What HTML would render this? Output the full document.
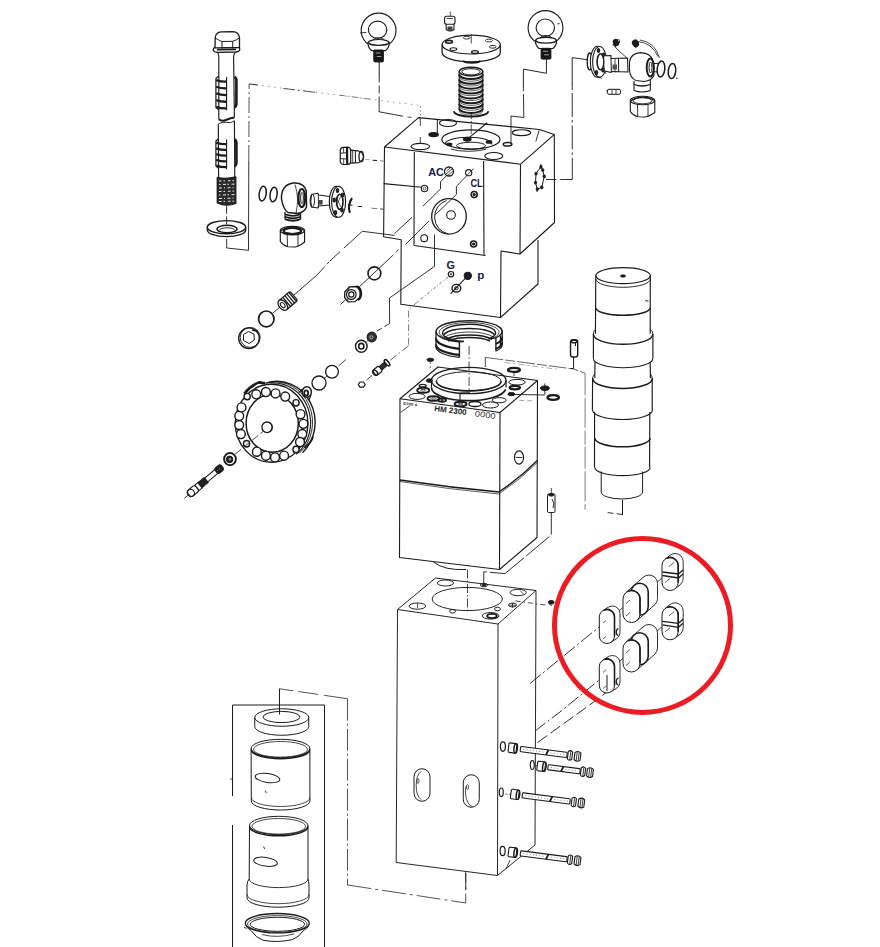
<!DOCTYPE html>
<html lang="en"><head><meta charset="utf-8"><title>HM 2300 exploded view</title>
<style>
html,body{margin:0;padding:0;background:#fff;}
body{width:880px;height:947px;overflow:hidden;font-family:"Liberation Sans",sans-serif;}
svg{display:block;}
svg *{vector-effect:none;}
</style></head><body>
<svg width="880" height="947" viewBox="0 0 880 947" fill="none" stroke="#1b1b1b" stroke-width="1.1" stroke-linejoin="round" stroke-linecap="butt" font-family="Liberation Sans, sans-serif">
<rect x="0" y="0" width="880" height="947" fill="#ffffff" stroke="none"/>
<!-- top block -->
<polygon points="384.5,147 418.6,117.6 539.5,129.5 554.2,134.6 520.5,164.2"/>
<polyline points="384.5,147 383.6,236.8 401.2,239.8 400.8,304.2 500.5,317.5 538,284 538,240"/>
<polyline points="500.5,317.5 501,251 520,254"/>
<polyline points="520.5,164.2 520,254 554.5,222.5 554.3,134.6"/>
<polyline points="383.6,183.6 421.8,187.3"/>
<polyline points="414.3,152 414,245.5 485.5,255.5"/>
<polyline points="483.6,161 484,255"/>
<ellipse cx="448" cy="123" rx="8.5" ry="3.5"/>
<ellipse cx="521.4" cy="132.7" rx="9.2" ry="2.9"/>
<ellipse cx="420.3" cy="146.5" rx="9.3" ry="3.1"/>
<ellipse cx="493.75" cy="156" rx="9" ry="3.5"/>
<ellipse cx="470.9" cy="139.5" rx="29.1" ry="9.6" stroke-width="1.2"/>
<path d="M445.63 144.48A23.2 6.3 0 1 1 491.57 144.48"/>
<path d="M486.37 149.05A23.2 6.3 0 0 1 450.83 149.05" stroke-width="0.9"/>
<ellipse cx="471" cy="145.7" rx="14.5" ry="3.5" stroke-width="1"/>
<ellipse cx="467.3" cy="139.2" rx="3.8" ry="1.9" fill="#1b1b1b"/>
<ellipse cx="449.3" cy="144.3" rx="2.6" ry="1.3" fill="#1b1b1b"/>
<ellipse cx="489" cy="141.9" rx="2.8" ry="1.4" fill="#1b1b1b"/>
<polyline points="467.3,139.1 487.3,122.7"/>
<polyline points="471.2,127 471.2,134" stroke-width="0.7"/>
<ellipse cx="433.6" cy="134.6" rx="4.8" ry="2" fill="#1b1b1b"/>
<ellipse cx="507.6" cy="144.2" rx="4.3" ry="1.8" stroke-width="1.5"/>
<polyline points="535.8,141.5 539,130.5" stroke-width="0.9"/>
<ellipse cx="449" cy="171.5" rx="4.5" ry="4.5" stroke-width="1.3"/>
<polyline points="446,174 452,169" stroke-width="0.8"/>
<polyline points="446.5,171 450.5,167.8" stroke-width="0.8"/>
<polyline points="448,175 452.5,171.5" stroke-width="0.8"/>
<ellipse cx="468.7" cy="172.7" rx="3.1" ry="3.1"/>
<ellipse cx="424.5" cy="188.5" rx="3.2" ry="3.2"/>
<ellipse cx="424.5" cy="188.5" rx="1.4" ry="1.4" stroke-width="0.7"/>
<ellipse cx="474.2" cy="194.5" rx="3" ry="3" stroke-width="1.6"/>
<ellipse cx="474.2" cy="194.5" rx="1" ry="1" fill="#1b1b1b"/>
<ellipse cx="424.2" cy="238.2" rx="3.4" ry="3.4"/>
<ellipse cx="473.6" cy="244" rx="3" ry="3" stroke-width="1.6"/>
<ellipse cx="473.6" cy="244" rx="1" ry="1" fill="#1b1b1b"/>
<ellipse cx="449" cy="216.4" rx="17.3" ry="17.7" stroke-width="1.3"/>
<path d="M447.99 233.74A16.2 17 0 0 1 446.61 200.58" stroke-width="1"/>
<ellipse cx="451" cy="215" rx="4.3" ry="4.3"/>
<!-- side star -->
<polygon points="540.9,166.9 536,173.6 535.5,182.7 537.3,189.1 541.8,187.3 544.2,176.4 542.7,170" stroke-width="1"/>
<ellipse cx="540.9" cy="166.9" rx="1.3" ry="1.6" fill="#1b1b1b" stroke-width="0.6"/>
<ellipse cx="536" cy="173.6" rx="1.3" ry="1.6" fill="#1b1b1b" stroke-width="0.6"/>
<ellipse cx="535.5" cy="182.7" rx="1.3" ry="1.6" fill="#1b1b1b" stroke-width="0.6"/>
<ellipse cx="537.3" cy="189.1" rx="1.3" ry="1.6" fill="#1b1b1b" stroke-width="0.6"/>
<ellipse cx="541.8" cy="187.3" rx="1.3" ry="1.6" fill="#1b1b1b" stroke-width="0.6"/>
<ellipse cx="544.2" cy="176.4" rx="1.3" ry="1.6" fill="#1b1b1b" stroke-width="0.6"/>
<ellipse cx="542.7" cy="170" rx="1.3" ry="1.6" fill="#1b1b1b" stroke-width="0.6"/>
<polyline points="540.9,164 540.9,167" stroke-width="1"/>
<polyline points="537.3,189 537,192" stroke-width="1"/>
<ellipse cx="467.8" cy="275.8" rx="3.6" ry="3.6" fill="#1b1b1b"/>
<ellipse cx="451" cy="274.2" rx="2.7" ry="2.7" stroke-width="1.2"/>
<ellipse cx="451" cy="274.2" rx="0.8" ry="0.8" fill="#1b1b1b" stroke-width="0.5"/>
<ellipse cx="456.4" cy="288.2" rx="4.4" ry="3.8" stroke-width="1.4"/>
<ellipse cx="456.4" cy="288.2" rx="1.8" ry="1.5" stroke-width="1"/>
<polyline points="450.5,293.8 465.5,278.2"/>
<text x="428.3" y="175.8" font-size="10.8" font-weight="bold" fill="#182045" stroke="none" text-anchor="start">AC</text>
<text x="470.4" y="186.9" font-size="10.8" font-weight="bold" fill="#182045" stroke="none" text-anchor="start" textLength="12.4" lengthAdjust="spacingAndGlyphs">CL</text>
<text x="446.6" y="269.2" font-size="10.8" font-weight="bold" fill="#182045" stroke="none" text-anchor="start">G</text>
<text x="477.2" y="279.2" font-size="11.5" font-weight="bold" fill="#182045" stroke="none" text-anchor="start">p</text>
<!-- middle block -->
<polygon points="400,398.75 438,367 537.5,380.5 500,412.5"/>
<polyline points="400,398.75 399.5,557.5 499.5,569.5 537,537.5 537.5,380.5"/>
<polyline points="500,412.5 499.5,569.5"/>
<path d="M400 480 Q450 487.5 498.8 492 Q520 478 537.3 460.5" stroke-width="1.3"/>
<path d="M400 481.5 Q450 489.5 498.8 494 Q520 480 537.3 462.5" stroke-width="0.7"/>
<polyline points="400.6,412.4 409.5,406" stroke-width="0.8"/>
<ellipse cx="468.75" cy="380.5" rx="37.3" ry="13.2" stroke-width="1.3"/>
<ellipse cx="468.75" cy="381.3" rx="32.4" ry="9.6" stroke-width="1"/>
<path d="M436.4 381.3 A32.4 9.6 0 0 0 501.2 381.3" stroke-width="1.6"/>
<path d="M505.69 389.34A37.3 13.2 0 0 1 431.45 387.5" stroke-width="1.7"/>
<polyline points="431.45,380.5 431.45,387.5" stroke-width="1.2"/>
<polyline points="506.05,380.5 506.05,387.5" stroke-width="1.2"/>
<polyline points="460,393.2 460,400.3"/>
<polyline points="460,393 470,392.6" stroke-width="0.9"/>
<ellipse cx="514" cy="369.9" rx="6" ry="2" stroke-width="2.2"/>
<ellipse cx="517" cy="382.2" rx="8.2" ry="2.8" stroke-width="1"/>
<ellipse cx="514.8" cy="387.6" rx="5.2" ry="1.8" stroke-width="2.2"/>
<ellipse cx="511.4" cy="394.1" rx="3.5" ry="1.6" fill="#1b1b1b" stroke-width="1"/>
<ellipse cx="499.2" cy="400.2" rx="7" ry="2.6" stroke-width="1"/>
<ellipse cx="490.5" cy="405" rx="8" ry="3" stroke-width="1"/>
<ellipse cx="475" cy="404" rx="6" ry="2.5" stroke-width="1.3"/>
<ellipse cx="460.6" cy="404.1" rx="6" ry="2.3" stroke-width="1.9"/>
<ellipse cx="460.6" cy="404.1" rx="2.4" ry="0.8" stroke-width="0.8"/>
<ellipse cx="442.1" cy="400" rx="4" ry="1.8" stroke-width="1.9"/>
<ellipse cx="442.1" cy="400" rx="1.6" ry="0.63" stroke-width="0.8"/>
<ellipse cx="433.5" cy="398.5" rx="6" ry="2.4" stroke-width="1.9"/>
<ellipse cx="433.5" cy="398.5" rx="2.4" ry="0.84" stroke-width="0.8"/>
<ellipse cx="417.1" cy="396.4" rx="8" ry="3" stroke-width="1"/>
<ellipse cx="423.2" cy="390.3" rx="6" ry="2.6" stroke-width="1.9"/>
<ellipse cx="423.2" cy="390.3" rx="2.4" ry="0.91" stroke-width="0.8"/>
<ellipse cx="422.7" cy="385.7" rx="3.5" ry="1.3" stroke-width="1.3"/>
<ellipse cx="429.4" cy="380.6" rx="3" ry="1.8" fill="#1b1b1b" stroke-width="1"/>
<polyline points="514,372 514,376" stroke-width="0.8"/>
<text x="434" y="410.9" font-size="7.9" font-weight="bold" fill="#1e1e1e" stroke="none" text-anchor="start" textLength="32.5" lengthAdjust="spacingAndGlyphs" transform="rotate(7.5 434 410.9)">HM 2300</text>
<text x="474.6" y="416.2" font-size="7.9" font-weight="normal" fill="#3a3a3a" stroke="none" text-anchor="start" textLength="20.8" lengthAdjust="spacingAndGlyphs" transform="rotate(7.5 474.6 416.2)">0000</text>
<text x="403.1" y="404.6" font-size="3.8" font-weight="bold" fill="#222" stroke="none" text-anchor="start" textLength="13.8" lengthAdjust="spacingAndGlyphs" transform="rotate(7.5 403.1 404.6)">D100 4</text>
<ellipse cx="519" cy="457.5" rx="4.6" ry="6.6"/>
<polyline points="515.5,457.3 522.5,457.7" stroke-width="0.9"/>
<path d="M433.5 562 Q444 570.5 466 569.5" stroke-width="1"/>
<!-- lower block -->
<polygon points="397.5,609.5 435.5,578 536,590.5 498,624" stroke-width="0.95"/>
<polyline points="397.5,609.5 396.2,862.5 497.5,875.5 535,845 536,590.5" stroke-width="0.95"/>
<polyline points="498,624 497.5,875.5" stroke-width="0.95"/>
<ellipse cx="467.3" cy="599" rx="35.1" ry="11.6" stroke-width="0.95"/>
<polyline points="467.5,569.5 467.5,612" stroke-dasharray="9 2 1.5 2" stroke-width="0.8"/>
<ellipse cx="445.5" cy="583" rx="8.1" ry="3" stroke-width="0.95"/>
<ellipse cx="417.4" cy="606.1" rx="8.3" ry="3.1" stroke-width="0.95"/>
<ellipse cx="518.2" cy="592.5" rx="8.1" ry="3.2" stroke-width="0.95"/>
<ellipse cx="490.6" cy="615.8" rx="8.3" ry="3.3" stroke-width="0.95"/>
<ellipse cx="483.9" cy="585.1" rx="3.6" ry="1.7" stroke-width="0.95"/>
<ellipse cx="452.5" cy="611.3" rx="3" ry="1.8" stroke-width="0.95"/>
<ellipse cx="497.5" cy="609" rx="3" ry="1.8" stroke-width="0.95"/>
<ellipse cx="512.5" cy="605" rx="4" ry="2" stroke-width="0.95"/>
<ellipse cx="492" cy="616" rx="4.8" ry="2.1" stroke-width="1.9"/>
<polyline points="417.5,603 417.5,608" stroke-width="0.7"/>
<polyline points="520,590.5 523.5,594" stroke-width="0.7"/>
<polyline points="512.5,603 512.5,607.5" stroke-width="0.8"/>
<polyline points="509,605.2 516,605.2" stroke-width="0.8"/>
<ellipse cx="483.9" cy="585.1" rx="2" ry="0.9" fill="#1b1b1b" stroke-width="0.8"/>
<rect x="414" y="768.75" width="16" height="32.5" rx="8" ry="8" stroke-width="1"/>
<rect x="463.25" y="774.75" width="16" height="32.5" rx="8" ry="8" stroke-width="1"/>
<path d="M421.07 799.6A7.4 15 0 0 1 421.07 771.4" stroke-width="0.8"/>
<path d="M472.26 806.44A7.4 15 0 0 1 465.95 786.37" stroke-width="0.8"/>
<ellipse cx="418" cy="781" rx="1" ry="2.6" stroke-width="0.7"/>
<ellipse cx="467.5" cy="787" rx="1" ry="2.6" stroke-width="0.7"/>
<polyline points="465.75,872.5 465.75,890" stroke-width="0.9"/>
<!-- piston -->
<ellipse cx="623.1" cy="275.6" rx="27.25" ry="8" stroke-width="1.15"/>
<ellipse cx="623" cy="276" rx="2.6" ry="1.3" fill="#1b1b1b" stroke-width="0.6"/>
<path d="M595.8 275.6 L595.4 333.8 M650.3 275.6 L650.2 333.8" stroke-width="1.15"/>
<path d="M595.85 279A27.25 8.3 0 0 0 650.35 279" stroke-width="0.9"/>
<path d="M595.6 307.5A27.4 7.8 0 0 0 650.4 307.5" stroke-width="1.4"/>
<polyline points="645,300.6 648.5,301.2" stroke-width="0.9"/>
<path d="M593.4 334 L593.4 358.5 M652.9 334 L652.9 358.5" stroke-width="1.15"/>
<path d="M593.4 334.3A29.7 10 0 0 0 652.8 334.3" stroke-width="1.5"/>
<path d="M593.4 358.5A29.7 9.3 0 0 0 652.8 358.5" stroke-width="1.15"/>
<path d="M595.4 329.5 Q593.4 331 593.4 334 M650.2 329.5 Q652.9 331 652.9 334" stroke-width="0.9"/>
<path d="M595 362 L594.8 378 M650.2 362 L650.4 378" stroke-width="1.15"/>
<path d="M592.6 378 L592.4 410 M652.2 378 L652.2 410" stroke-width="1.15"/>
<path d="M592.7 378.5A29.8 10 0 0 0 652.3 378.5" stroke-width="1.5"/>
<path d="M592.6 410A29.9 9.5 0 0 0 652.4 410" stroke-width="1.15"/>
<path d="M594.8 374 Q592.6 376 592.6 378.5 M650.4 374 Q652.2 376 652.2 378.5" stroke-width="0.9"/>
<path d="M594.6 412 L594.5 467.5 M649.8 412 L649.6 467.5" stroke-width="1.15"/>
<path d="M594.9 438A27.6 8.8 0 0 0 650.1 438" stroke-width="1.5"/>
<path d="M594.9 467.5A27.6 8.2 0 0 0 650.1 467.5" stroke-width="1.15"/>
<path d="M601.2 471.5 L601.2 492 M642.6 471.5 L642.6 492" stroke-width="1"/>
<path d="M601.2 492A20.7 7 0 0 0 642.6 492" stroke-width="1"/>
<polyline points="622.5,500 622.5,515" stroke-width="1"/>
<polyline points="622.5,514.5 607,512.5" stroke-dasharray="6 3" stroke-width="0.9"/>
<!-- cylinder set -->
<polyline points="232.5,796 232.5,705 324.5,705 324.5,947" stroke-width="1"/>
<polyline points="232.5,825 232.5,947" stroke-width="1"/>
<polyline points="230,779 232.5,779" stroke-width="0.8"/>
<polyline points="279.5,688.75 279.5,714.5" stroke-width="1"/>
<ellipse cx="281.75" cy="717.5" rx="27" ry="8.75" stroke-width="1"/>
<ellipse cx="281.5" cy="717" rx="18.5" ry="5.6" stroke-width="1"/>
<path d="M254.75 717.5 L254.75 726.5 A27 8.75 0 0 0 308.75 726.5 L308.75 717.5" stroke-width="1"/>
<ellipse cx="280.5" cy="748.5" rx="29.4" ry="9.2" stroke-width="1"/>
<ellipse cx="280.5" cy="749.3" rx="27" ry="7.8" stroke-width="0.8"/>
<path d="M251.1 748.5 L251.3 801 A29.3 9 0 0 0 309.9 801 L309.9 748.5" stroke-width="1"/>
<path d="M251.3 750.2 A29.3 9.2 0 0 0 309.7 750.2" stroke-width="1.5"/>
<path d="M251.3 797.5 A29.3 9 0 0 0 309.9 797.5" stroke-width="0.8"/>
<ellipse cx="267.5" cy="778" rx="12.4" ry="4.5" transform="rotate(8 267.5 778)" stroke-width="1"/>
<polyline points="265.3,790.5 266.2,793" stroke-width="0.9"/>
<ellipse cx="278.75" cy="825.5" rx="29.2" ry="9.2" stroke-width="1"/>
<ellipse cx="278.75" cy="826.3" rx="26.8" ry="7.8" stroke-width="0.8"/>
<path d="M249.5 825.5 L249.2 879 Q247.2 881 247 885 L247 898 A31 9.2 0 0 0 309 898 L309 885 Q308.8 881 308 879 L308 825.5" stroke-width="1"/>
<path d="M249.6 827.2 A29.2 9.2 0 0 0 307.9 827.2" stroke-width="1.5"/>
<path d="M249.2 879 A29.4 8.6 0 0 0 308 879" stroke-width="0.9"/>
<path d="M247 894.5 A31 9.2 0 0 0 309 894.5" stroke-width="0.8"/>
<ellipse cx="265.5" cy="861.75" rx="12" ry="4.4" transform="rotate(8 265.5 861.75)" stroke-width="1"/>
<polyline points="263.6,846.5 264.6,849" stroke-width="0.9"/>
<ellipse cx="277.3" cy="923.2" rx="32" ry="9.7" stroke-width="1.3"/>
<ellipse cx="277.3" cy="924" rx="29.8" ry="8.4" stroke-width="0.8"/>
<ellipse cx="277.4" cy="924.3" rx="27.2" ry="7" stroke-width="1"/>
<path d="M245.4 924.5 Q246 927.5 251 930.5 Q256 938 263 940.2 Q277 943 292.5 939.6 Q299 937 303.5 930.5 Q308.6 927.5 309.2 924.5" stroke-width="1"/>
<path d="M262 934.5 Q277 938.5 294 934" stroke-width="0.8"/>
<polyline points="244,927.2 246.5,928.6" stroke-width="0.9"/>
<polyline points="279.5,688.75 347.5,698.75" stroke-dasharray="14 5 20 6 30 200" stroke="#2a2a2a" stroke-width="0.8"/>
<polyline points="347.5,698.75 347.5,885" stroke-dasharray="22 3 2 3" stroke="#2a2a2a" stroke-width="0.8"/>
<polyline points="347.5,885 420,896 465.75,903 465.75,872.5" stroke-dasharray="24 4 3 4" stroke="#2a2a2a" stroke-width="0.8"/>
<!-- wear plates -->
<polyline points="530,683.5 604,623 606,621" stroke-dasharray="14 3 2 3" stroke-width="0.9"/>
<polyline points="614,615 626,605" stroke-width="0.8"/>
<polyline points="650,588 667,574" stroke-width="0.8"/>
<polyline points="535,731 560,712 604,676" stroke-dasharray="13 3 2 3" stroke-width="0.9"/>
<polyline points="602,676 606,672" stroke-width="0.9"/>
<polyline points="614,666 627,655" stroke-width="0.8"/>
<polyline points="650,637 667,622.5" stroke-width="0.8"/>
<polyline points="537.5,742.5 600,697.5 606,692.5" stroke-dasharray="12 4" stroke-width="0.9"/>
<path d="M667 561.6A8.1 8.1 0 0 1 683.2 561.6L683.2 578.4A8.1 8.1 0 0 1 667 578.4Z" fill="#fff" stroke-width="0.9"/>
<polygon points="665.04,559.27 670.04,555.27 680.16,584.73 675.16,588.73" stroke="#fff" fill="#fff" stroke-width="0.01"/>
<polyline points="665.04,559.27 670.04,555.27" stroke-width="0.9"/>
<polyline points="675.16,588.73 680.16,584.73" stroke-width="0.9"/>
<path d="M662 565.6A8.1 8.1 0 0 1 678.2 565.6L678.2 582.4A8.1 8.1 0 0 1 662 582.4Z" fill="#fff" stroke-width="1"/>
<path d="M666.86 558.15A8.1 8.1 0 0 1 678.2 565.6L678.2 582.4" stroke-width="1.6"/>
<polyline points="662.5,572 678.5,574 683,570" stroke-width="1.3"/>
<polyline points="662.5,575.5 678.5,578 683,574" stroke-width="1.3"/>
<polyline points="669,566.5 674,562.5" stroke-width="0.7"/>
<polyline points="665,582.5 670,578.5" stroke-width="0.7"/>
<path d="M667 610.9A8.1 8.1 0 0 1 683.2 610.9L683.2 627.7A8.1 8.1 0 0 1 667 627.7Z" fill="#fff" stroke-width="0.9"/>
<polygon points="665.04,608.57 670.04,604.57 680.16,634.03 675.16,638.03" stroke="#fff" fill="#fff" stroke-width="0.01"/>
<polyline points="665.04,608.57 670.04,604.57" stroke-width="0.9"/>
<polyline points="675.16,638.03 680.16,634.03" stroke-width="0.9"/>
<path d="M662 614.9A8.1 8.1 0 0 1 678.2 614.9L678.2 631.7A8.1 8.1 0 0 1 662 631.7Z" fill="#fff" stroke-width="1"/>
<path d="M666.86 607.45A8.1 8.1 0 0 1 678.2 614.9L678.2 631.7" stroke-width="1.6"/>
<polyline points="662.5,621.3 678.5,623.3 683,619.3" stroke-width="1.3"/>
<polyline points="662.5,624.8 678.5,627.3 683,623.3" stroke-width="1.3"/>
<polyline points="669,615.8 674,611.8" stroke-width="0.7"/>
<polyline points="665,631.8 670,627.8" stroke-width="0.7"/>
<path d="M640.5 583.5A8.5 8.5 0 0 1 657.5 583.5L657.5 598.5A8.5 8.5 0 0 1 640.5 598.5Z" fill="#fff" stroke-width="0.9"/>
<polygon points="625.86,592.64 643.36,577.14 654.64,604.86 637.14,620.36" stroke="#fff" fill="#fff" stroke-width="0.01"/>
<polyline points="625.86,592.64 643.36,577.14" stroke-width="0.9"/>
<polyline points="637.14,620.36 654.64,604.86" stroke-width="0.9"/>
<path d="M631.23 591.72A8.5 8.5 0 0 1 648.23 591.72L648.23 606.72A8.5 8.5 0 0 1 631.23 606.72Z" fill="#fff" stroke-width="1.6"/>
<path d="M623 599A8.5 8.5 0 0 1 640 599L640 614A8.5 8.5 0 0 1 623 614Z" fill="#fff" stroke-width="1"/>
<path d="M628.1 591.18A8.5 8.5 0 0 1 640 599L640 614" stroke-width="1.6"/>
<polyline points="630,600 626,603.5" stroke-width="0.7"/>
<polyline points="630,612.5 626,616" stroke-width="0.7"/>
<path d="M640.5 633A8.5 8.5 0 0 1 657.5 633L657.5 648A8.5 8.5 0 0 1 640.5 648Z" fill="#fff" stroke-width="0.9"/>
<polygon points="625.86,642.14 643.36,626.64 654.64,654.36 637.14,669.86" stroke="#fff" fill="#fff" stroke-width="0.01"/>
<polyline points="625.86,642.14 643.36,626.64" stroke-width="0.9"/>
<polyline points="637.14,669.86 654.64,654.36" stroke-width="0.9"/>
<path d="M631.23 641.22A8.5 8.5 0 0 1 648.23 641.22L648.23 656.22A8.5 8.5 0 0 1 631.23 656.22Z" fill="#fff" stroke-width="1.6"/>
<path d="M623 648.5A8.5 8.5 0 0 1 640 648.5L640 663.5A8.5 8.5 0 0 1 623 663.5Z" fill="#fff" stroke-width="1"/>
<path d="M628.1 640.68A8.5 8.5 0 0 1 640 648.5L640 663.5" stroke-width="1.6"/>
<polyline points="630,649.5 626,653" stroke-width="0.7"/>
<polyline points="630,662 626,665.5" stroke-width="0.7"/>
<path d="M604.8 613.6A7.6 7.6 0 0 1 620 613.6L620 632.4A7.6 7.6 0 0 1 604.8 632.4Z" fill="#fff" stroke-width="0.9"/>
<polygon points="602.82,610.69 608.32,607.19 616.48,638.81 610.98,642.31" stroke="#fff" fill="#fff" stroke-width="0.01"/>
<polyline points="602.82,610.69 608.32,607.19" stroke-width="0.9"/>
<polyline points="610.98,642.31 616.48,638.81" stroke-width="0.9"/>
<path d="M599.3 617.1A7.6 7.6 0 0 1 614.5 617.1L614.5 635.9A7.6 7.6 0 0 1 599.3 635.9Z" fill="#fff" stroke-width="1"/>
<path d="M603.86 610.11A7.6 7.6 0 0 1 614.5 617.1L614.5 635.9" stroke-width="1.6"/>
<path d="M618.5 628.5 A3 3.6 0 0 0 618.5 635.5" stroke-width="1.3"/>
<polyline points="606,620.5 603,623" stroke-width="0.7"/>
<polyline points="606,636.5 603,639" stroke-width="0.7"/>
<path d="M604.8 663.1A7.6 7.6 0 0 1 620 663.1L620 681.9A7.6 7.6 0 0 1 604.8 681.9Z" fill="#fff" stroke-width="0.9"/>
<polygon points="602.82,660.19 608.32,656.69 616.48,688.31 610.98,691.81" stroke="#fff" fill="#fff" stroke-width="0.01"/>
<polyline points="602.82,660.19 608.32,656.69" stroke-width="0.9"/>
<polyline points="610.98,691.81 616.48,688.31" stroke-width="0.9"/>
<path d="M599.3 666.6A7.6 7.6 0 0 1 614.5 666.6L614.5 685.4A7.6 7.6 0 0 1 599.3 685.4Z" fill="#fff" stroke-width="1"/>
<path d="M603.86 659.61A7.6 7.6 0 0 1 614.5 666.6L614.5 685.4" stroke-width="1.6"/>
<path d="M618.5 678 A3 3.6 0 0 0 618.5 685" stroke-width="1.3"/>
<polyline points="606,670 603,672.5" stroke-width="0.7"/>
<polyline points="606,686 603,688.5" stroke-width="0.7"/>
<polyline points="607,675 607,691" stroke-width="1"/>
<!-- bolts -->
<ellipse cx="502.9" cy="746.6" rx="2.5" ry="4.7" stroke-width="1.2"/>
<g transform="rotate(7.35 512.5 748)">
<rect x="508.5" y="743.2" width="8" height="9.6" fill="#fff" rx="1.2"/>
<ellipse cx="515.7" cy="748" rx="1.7" ry="4.6" stroke-width="1.5"/>
<rect x="520.47" y="745.4" width="46.99" height="5.2" fill="#fff" rx="1"/>
<polyline points="546.59,750.6 548.39,745.4" stroke-width="1.8"/>
<polyline points="523.47,748 544.79,748" stroke-dasharray="1 2.2" stroke-width="0.5"/>
<polyline points="550.79,748 565.45,748" stroke-dasharray="1 2.2" stroke-width="0.5"/>
<path d="M568.28 744.4 Q570.48 742 572.68 744.4 L572.68 751.6 Q570.48 754 568.28 751.6 Z" fill="#fff"/>
<polyline points="570.78,743.6 570.78,752.4" stroke-width="0.8"/>
<path d="M575.04 744.4 Q578.04 741.8 581.04 744.4 L581.04 751.6 Q578.04 754.2 575.04 751.6 Z" fill="#fff"/>
<polyline points="577.24,743.5 577.24,752.5" stroke-width="0.8"/>
<polyline points="579.24,743.7 579.24,752.3" stroke-width="0.8"/>
</g>
<ellipse cx="532.3" cy="765" rx="2" ry="4.5" stroke-width="1.2"/>
<g transform="rotate(7.35 541.2 766.3)">
<rect x="537.2" y="761.5" width="8" height="9.6" fill="#fff" rx="1.2"/>
<ellipse cx="544.4" cy="766.3" rx="1.7" ry="4.6" stroke-width="1.5"/>
<rect x="548.06" y="763.7" width="32.27" height="5.2" fill="#fff" rx="1"/>
<polyline points="561.48,768.9 563.28,763.7" stroke-width="1.8"/>
<polyline points="551.06,766.3 559.68,766.3" stroke-dasharray="1 2.2" stroke-width="0.5"/>
<polyline points="565.68,766.3 578.32,766.3" stroke-dasharray="1 2.2" stroke-width="0.5"/>
<path d="M581.15 762.7 Q583.35 760.3 585.55 762.7 L585.55 769.9 Q583.35 772.3 581.15 769.9 Z" fill="#fff"/>
<polyline points="583.65,761.9 583.65,770.7" stroke-width="0.8"/>
<path d="M587.4 762.7 Q590.4 760.1 593.4 762.7 L593.4 769.9 Q590.4 772.5 587.4 769.9 Z" fill="#fff"/>
<polyline points="589.6,761.8 589.6,770.8" stroke-width="0.8"/>
<polyline points="591.6,762 591.6,770.6" stroke-width="0.8"/>
</g>
<ellipse cx="501.3" cy="792.3" rx="2" ry="4.3" stroke-width="1.2"/>
<g transform="rotate(7.35 514.8 794.4)">
<rect x="510.8" y="789.6" width="8" height="9.6" fill="#fff" rx="1.2"/>
<ellipse cx="518" cy="794.4" rx="1.7" ry="4.6" stroke-width="1.5"/>
<rect x="522.36" y="791.8" width="48.1" height="5.2" fill="#fff" rx="1"/>
<polyline points="550.4,797 552.2,791.8" stroke-width="1.8"/>
<polyline points="525.36,794.4 548.6,794.4" stroke-dasharray="1 2.2" stroke-width="0.5"/>
<polyline points="554.6,794.4 568.46,794.4" stroke-dasharray="1 2.2" stroke-width="0.5"/>
<path d="M572.09 790.8 Q574.29 788.4 576.49 790.8 L576.49 798 Q574.29 800.4 572.09 798 Z" fill="#fff"/>
<polyline points="574.59,790 574.59,798.8" stroke-width="0.8"/>
<path d="M578.85 790.8 Q581.85 788.2 584.85 790.8 L584.85 798 Q581.85 800.6 578.85 798 Z" fill="#fff"/>
<polyline points="581.05,789.9 581.05,798.9" stroke-width="0.8"/>
<polyline points="583.05,790.1 583.05,798.7" stroke-width="0.8"/>
</g>
<ellipse cx="502.6" cy="851" rx="2.5" ry="4.7" stroke-width="1.2"/>
<g transform="rotate(7.35 512.5 852.3)">
<rect x="508.5" y="847.5" width="8" height="9.6" fill="#fff" rx="1.2"/>
<ellipse cx="515.7" cy="852.3" rx="1.7" ry="4.6" stroke-width="1.5"/>
<rect x="520.47" y="849.7" width="46.99" height="5.2" fill="#fff" rx="1"/>
<polyline points="546.59,854.9 548.39,849.7" stroke-width="1.8"/>
<polyline points="523.47,852.3 544.79,852.3" stroke-dasharray="1 2.2" stroke-width="0.5"/>
<polyline points="550.79,852.3 565.45,852.3" stroke-dasharray="1 2.2" stroke-width="0.5"/>
<path d="M568.28 848.7 Q570.48 846.3 572.68 848.7 L572.68 855.9 Q570.48 858.3 568.28 855.9 Z" fill="#fff"/>
<polyline points="570.78,847.9 570.78,856.7" stroke-width="0.8"/>
<path d="M575.04 848.7 Q578.04 846.1 581.04 848.7 L581.04 855.9 Q578.04 858.5 575.04 855.9 Z" fill="#fff"/>
<polyline points="577.24,847.8 577.24,856.8" stroke-width="0.8"/>
<polyline points="579.24,848 579.24,856.6" stroke-width="0.8"/>
</g>
<polyline points="505.5,794 510,794.3" stroke-dasharray="2 1.5" stroke-width="0.7"/>
<polyline points="536,765.5 537,765.7" stroke-width="0.7"/>
<polyline points="510,860 506,869" stroke-width="0.8"/>
<!-- pins -->
<rect x="570.5" y="339.8" width="7.2" height="17.2" stroke-width="1.4" rx="2.6"/>
<ellipse cx="574.1" cy="341.4" rx="2.6" ry="1.3" stroke-width="1.5"/>
<polyline points="575.5,342 575.5,346" stroke-width="1"/>
<polyline points="573.6,357 573.6,368.6 570.5,368.5" stroke-width="1"/>
<polyline points="504.5,362.4 557,369.2" stroke-dasharray="6 3 2 3" stroke="#777" stroke-width="0.6"/>
<polyline points="485.3,357.4 573.75,369 585.1,373.3" stroke-dasharray="18 2 10 2" stroke="#333" stroke-width="0.75"/>
<polyline points="485.3,357.4 485.3,367" stroke-width="0.8"/>
<polyline points="585.1,373.3 585.1,509.5" stroke-dasharray="22 2.5 30 3 14 2" stroke="#444" stroke-width="0.7"/>
<rect x="547.5" y="494" width="7.5" height="18.5" stroke-width="1" rx="1.2"/>
<ellipse cx="551.3" cy="494.8" rx="2.8" ry="1.3" fill="#1b1b1b" stroke-width="1"/>
<path d="M552 499 Q555 503 553 508" stroke-width="0.9"/>
<polyline points="551.3,488 551.3,494" stroke-width="0.8"/>
<polyline points="551.3,512.5 551.3,535 505,573.6 483.75,571.8 483.75,583" stroke-dasharray="22 3 30 3 40 3" stroke-width="0.9"/>
<ellipse cx="551.25" cy="602.3" rx="2.9" ry="1.8" fill="#1b1b1b" stroke-width="1"/>
<polyline points="549.5,604.5 552,605.5" stroke-width="0.8"/>
<polyline points="515.5,600.9 546.5,605.2" stroke-dasharray="5 3 1.5 3" stroke-width="0.8"/>
<!-- long bolt -->
<path d="M215.2 37.5 Q216 32.3 221 31.8 L233 31.6 Q238.6 32 239.5 37.5 L239.5 47.5 L215 47.8 Z" fill="#fff" stroke-width="1.3"/>
<path d="M215.2 38 Q221 41.5 222 41.5 L232.6 41.3 Q236 40.5 239.5 37.8" stroke-width="1"/>
<polyline points="222,41.5 222,48.4" stroke-width="1"/>
<polyline points="232.7,41.3 232.7,48.4" stroke-width="1"/>
<path d="M215 47.3 Q213 48 213.2 50 Q213.5 52 217 52.3 L236 52 Q239.8 51.5 239.8 49.5 Q239.8 47.5 238.5 47.2" stroke-width="1.3"/>
<polyline points="217,49.6 236,49.4" stroke-width="1.6"/>
<path d="M217.5 52.3 Q218.5 54.5 218.8 56 M235.5 52 Q234 54 233.6 56"/>
<path d="M218.8 76 L215.9 78.5 L215.9 107.2 L218.8 109.7" stroke-width="1.2"/>
<path d="M234.4 77 Q236.4 77.5 236.4 81 L236.4 103.2 Q236.4 106.7 234.4 107.2" stroke-width="2.6"/>
<polyline points="226.6,77 226.6,110.2"/>
<path d="M216.2 80.1 Q221 81.9 226.6 81.7" stroke-width="2.3"/>
<path d="M216.2 86.77 Q221 88.57 226.6 88.37" stroke-width="2.3"/>
<path d="M216.2 93.45 Q221 95.25 226.6 95.05" stroke-width="2.3"/>
<path d="M216.2 100.12 Q221 101.92 226.6 101.72" stroke-width="2.3"/>
<path d="M216.2 106.8 Q221 108.6 226.6 108.4" stroke-width="2.3"/>
<polyline points="218.8,56 218.8,119.2" stroke-width="1.15"/>
<polyline points="233.6,56 234.4,117.5" stroke-width="1.15"/>
<path d="M218.8 119.2 Q222 121.8 226 120 Q231 117.8 234.4 117.5" stroke-width="2"/>
<path d="M218.3 124 Q222 121.4 226 122.4 Q231 123.6 234.4 120.8" stroke-width="0.9"/>
<polyline points="218.3,124 218.6,177.3" stroke-width="1.15"/>
<polyline points="234.4,120.8 234.8,177" stroke-width="1.15"/>
<path d="M218.8 138.5 L215.9 141 L215.9 166 L218.8 168.5" stroke-width="1.2"/>
<path d="M234.4 139.5 Q236.4 140 236.4 143.5 L236.4 162 Q236.4 165.5 234.4 166" stroke-width="2.6"/>
<polyline points="226.6,139.5 226.6,169"/>
<path d="M216.2 142.6 Q221 144.4 226.6 144.2" stroke-width="2.3"/>
<path d="M216.2 148.35 Q221 150.15 226.6 149.95" stroke-width="2.3"/>
<path d="M216.2 154.1 Q221 155.9 226.6 155.7" stroke-width="2.3"/>
<path d="M216.2 159.85 Q221 161.65 226.6 161.45" stroke-width="2.3"/>
<path d="M216.2 165.6 Q221 167.4 226.6 167.2" stroke-width="2.3"/>
<path d="M217.3 177.5 L217.3 203 Q226 207 235.8 203.5 L235.8 177 Q226 179.5 217.3 177.5 Z" fill="#2a2a2a" stroke-width="1.3"/>
<polyline points="219,181 234.5,180.6" stroke-dasharray="2.5 2 1.5 3" stroke="#fff" stroke-width="0.9"/>
<polyline points="219,184.5 234.5,184.1" stroke-dasharray="1.5 2.5 3 1.5" stroke="#fff" stroke-width="0.9"/>
<polyline points="219,188 234.5,187.6" stroke-dasharray="3 2 1 2.5" stroke="#fff" stroke-width="0.9"/>
<polyline points="219,191.5 234.5,191.1" stroke-dasharray="2.5 2 1.5 3" stroke="#fff" stroke-width="0.9"/>
<polyline points="219,195 234.5,194.6" stroke-dasharray="1.5 2.5 3 1.5" stroke="#fff" stroke-width="0.9"/>
<polyline points="219,198.5 234.5,198.1" stroke-dasharray="3 2 1 2.5" stroke="#fff" stroke-width="0.9"/>
<polyline points="219,201.5 234.5,201.1" stroke-dasharray="2.5 2 1.5 3" stroke="#fff" stroke-width="0.9"/>
<polyline points="226.6,205.8 226.6,227" stroke-dasharray="8 2.5" stroke-width="0.9"/>
<path d="M207.3 227.2 L207.3 230 A19.2 6.6 0 0 0 245.7 230 L245.7 227.2" stroke-width="1.3"/>
<ellipse cx="226.5" cy="227.2" rx="19.2" ry="6.6" stroke-width="1.4"/>
<ellipse cx="227" cy="229" rx="10" ry="3.7" stroke-width="1.5"/>
<path d="M219.5 230.2A7.5 2.4 0 0 1 234.5 230.2" stroke-width="0.9"/>
<polyline points="226.7,239 226.7,248 248.5,250.3 248.8,161" stroke-width="0.9"/>
<polyline points="248.8,161 249.1,84" stroke-dasharray="16 3 2 3" stroke="#2a2a2a" stroke-width="0.8"/>
<polyline points="249.1,83.9 258,85" stroke-width="0.9"/>
<polyline points="262,85.6 420.7,105.5" stroke-dasharray="1.5 4.5" stroke="#666" stroke-width="0.7"/>
<polyline points="283.2,88.4 315,92.3" stroke-dasharray="12 3 2 3" stroke="#333" stroke-width="0.8"/>
<polyline points="340,95.2 369.5,99.1" stroke-dasharray="5 3 1.5 3" stroke="#444" stroke-width="0.7"/>
<polyline points="420.5,106 420.5,117" stroke-dasharray="1.5 2.5" stroke="#555" stroke-width="0.7"/>
<polyline points="420.3,118 420.3,126" stroke-width="0.8"/>
<polyline points="420.3,137 420.3,143.4" stroke-width="0.8"/>
<!-- eye bolts -->
<ellipse cx="378.6" cy="30.4" rx="17.4" ry="17.2" stroke-width="1.15"/>
<ellipse cx="377.6" cy="29.8" rx="9.2" ry="8.7" stroke-width="1.15"/>
<polyline points="360.1,33 366.4,32.4" stroke-width="0.9"/>
<path d="M368 42.4 Q367.8 47.4 371.6 50.6 L385.6 50.6 Q389.4 47.4 389.2 42.4 Z" fill="#fff" stroke-width="1.2"/>
<ellipse cx="378.6" cy="42.4" rx="10.2" ry="2.9" fill="#fff" stroke-width="1.2"/>
<path d="M373.1 40.2A5.5 2.4 0 0 1 384.1 40.2" stroke-width="1"/>
<rect x="373.8" y="50" width="9.6" height="11.9" fill="#161616" stroke-width="1" rx="1"/>
<polyline points="375.8,53 380.4,53" stroke="#ddd" stroke-width="0.7"/>
<polyline points="376.8,56.5 381.4,56.5" stroke="#ddd" stroke-width="0.7"/>
<ellipse cx="545.5" cy="27.8" rx="17.4" ry="17.2" stroke-width="1.15"/>
<ellipse cx="545.3" cy="27.7" rx="9.2" ry="8.7" stroke-width="1.15"/>
<polyline points="557.4,23.9 559.7,23.6" stroke-width="0.9"/>
<path d="M535.4 40.3 Q535.2 45.3 539 48.5 L553 48.5 Q556.8 45.3 556.6 40.3 Z" fill="#fff" stroke-width="1.2"/>
<ellipse cx="546" cy="40.3" rx="10.2" ry="2.9" fill="#fff" stroke-width="1.2"/>
<path d="M540.5 38.1A5.5 2.4 0 0 1 551.5 38.1" stroke-width="1"/>
<rect x="541.1" y="48.3" width="9.8" height="10.8" fill="#161616" stroke-width="1" rx="1"/>
<polyline points="543.1,51.3 547.9,51.3" stroke="#ddd" stroke-width="0.7"/>
<polyline points="544.1,54.8 548.9,54.8" stroke="#ddd" stroke-width="0.7"/>
<polyline points="379.2,61.9 379.2,79.5" stroke-width="1"/>
<polyline points="379.2,79.5 379.1,112" stroke-dasharray="3 3 8 3 20 0" stroke-width="0.9"/>
<polyline points="379.1,111.8 403,116.2" stroke-width="0.9"/>
<polyline points="407.5,117 411.5,117.4" stroke-width="0.8"/>
<polyline points="437.3,119.8 437.3,133.6" stroke-width="1"/>
<polyline points="546.4,59.1 546.4,73.3 523.4,69.1 523.4,88.6" stroke-width="0.95"/>
<polyline points="523.4,88.6 523.8,117.5" stroke-dasharray="2.5 3 24 0" stroke-width="0.9"/>
<polyline points="523.8,117.5 511,116 511,143.5" stroke-width="0.9"/>
<!-- top plug -->
<rect x="444.6" y="16.2" width="10.4" height="8" rx="2"/>
<polyline points="446.5,18.5 453,18.5" stroke-width="0.8"/>
<path d="M446.2 24.2 L446.2 29.5 Q450 32.5 454 29.5 L454 24.2"/>
<rect x="447.5" y="26.5" width="5" height="4.5" fill="#444" stroke-width="0.01"/>
<polyline points="450.3,11.5 450.3,16" stroke-width="0.7"/>
<!-- flange -->
<path d="M442.1 44.6 L442.1 52.4 A29.1 9.4 0 0 0 500.3 52.4 L500.3 44.6" stroke-width="1.3"/>
<ellipse cx="471.2" cy="44.6" rx="29.1" ry="9.4" fill="#fff" stroke-width="1.2"/>
<ellipse cx="466.8" cy="37.7" rx="3.4" ry="1.4" stroke-width="0.9"/>
<ellipse cx="488.9" cy="40.5" rx="3.4" ry="1.4" stroke-width="0.9"/>
<ellipse cx="492.7" cy="46.8" rx="3.4" ry="1.4" stroke-width="0.9"/>
<ellipse cx="475" cy="52.1" rx="3.4" ry="1.4" stroke-width="1.3"/>
<ellipse cx="453.4" cy="49.1" rx="3.4" ry="1.4"/>
<ellipse cx="449" cy="41.8" rx="3.4" ry="1.4" stroke-width="1.6"/>
<polyline points="471.25,34.5 471.25,43.5" stroke-width="0.8"/>
<path d="M480.49 60.97A9 2.6 0 0 1 463.11 60.97" stroke-width="1.8"/>
<!-- spring -->
<ellipse cx="471" cy="71.6" rx="11.8" ry="4.4" stroke-width="1.4"/>
<ellipse cx="471" cy="71.8" rx="9.2" ry="3.1" stroke-width="1"/>
<path d="M459.2 74.6 A11.8 4.4 0 0 0 482.8 74.6" stroke-width="2"/>
<path d="M459.2 76.8 A11.8 4.4 0 0 0 482.8 76.8" stroke-width="0.7"/>
<path d="M459.2 79.45 A11.8 4.4 0 0 0 482.8 79.45" stroke-width="2"/>
<path d="M459.2 81.65 A11.8 4.4 0 0 0 482.8 81.65" stroke-width="0.7"/>
<path d="M459.2 84.3 A11.8 4.4 0 0 0 482.8 84.3" stroke-width="2"/>
<path d="M459.2 86.5 A11.8 4.4 0 0 0 482.8 86.5" stroke-width="0.7"/>
<path d="M459.2 89.15 A11.8 4.4 0 0 0 482.8 89.15" stroke-width="2"/>
<path d="M459.2 91.35 A11.8 4.4 0 0 0 482.8 91.35" stroke-width="0.7"/>
<path d="M459.2 94 A11.8 4.4 0 0 0 482.8 94" stroke-width="2"/>
<path d="M459.2 96.2 A11.8 4.4 0 0 0 482.8 96.2" stroke-width="0.7"/>
<path d="M459.2 98.85 A11.8 4.4 0 0 0 482.8 98.85" stroke-width="2"/>
<path d="M459.2 101.05 A11.8 4.4 0 0 0 482.8 101.05" stroke-width="0.7"/>
<path d="M459.2 103.7 A11.8 4.4 0 0 0 482.8 103.7" stroke-width="2"/>
<path d="M459.2 105.9 A11.8 4.4 0 0 0 482.8 105.9" stroke-width="0.7"/>
<path d="M459.2 108.55 A11.8 4.4 0 0 0 482.8 108.55" stroke-width="2"/>
<path d="M459.2 110.75 A11.8 4.4 0 0 0 482.8 110.75" stroke-width="0.7"/>
<polyline points="459.2,71.6 459.2,109" stroke-width="1.2"/>
<polyline points="482.8,71.6 482.8,109" stroke-width="1.2"/>
<path d="M454 111.2 A17.1 5.4 0 0 0 488.2 111.2" stroke-width="1.9"/>
<polyline points="471.25,112 471.25,127" stroke-dasharray="7 2 1.5 2" stroke-width="0.8"/>
<!-- right fitting -->
<polyline points="587.5,59.7 572.2,57.7 572.2,87.5" stroke-width="0.95"/>
<polyline points="572.2,87.5 572.3,179.5" stroke-dasharray="2.5 3 24 3" stroke-width="0.9"/>
<polyline points="572.3,179.5 546,179.5" stroke-dasharray="12 4" stroke-width="0.9"/>
<ellipse cx="589.8" cy="61.5" rx="2.6" ry="8.5" stroke-width="1.3"/>
<ellipse cx="597.6" cy="61.8" rx="7.3" ry="15.5" fill="#fff"/>
<ellipse cx="599.6" cy="61.8" rx="7" ry="15.3" fill="#fff"/>
<ellipse cx="600.5" cy="61.8" rx="3.4" ry="8" stroke-width="1.6"/>
<ellipse cx="598.5" cy="50.5" rx="1.2" ry="1.9" fill="#333" stroke-width="1.2"/>
<ellipse cx="603.5" cy="55" rx="1.2" ry="1.9" fill="#333" stroke-width="1.2"/>
<ellipse cx="596.5" cy="72.5" rx="1.2" ry="1.9" fill="#333" stroke-width="1.2"/>
<ellipse cx="603" cy="70" rx="1.2" ry="1.9" fill="#333" stroke-width="1.2"/>
<polyline points="596.5,76 602,78.5" stroke-width="0.8"/>
<polyline points="604,66 606,74" stroke-width="0.7"/>
<path d="M604.5 55.8 L611 55.5 L611 58.5 L627.5 58 L628 72 L611.5 71.5 L611 72.5 L605 71" fill="#fff"/>
<polyline points="611,58.5 611.3,71.5" stroke-width="1"/>
<polyline points="618.5,58.2 618.7,71.8" stroke-width="1"/>
<polyline points="615,58.5 615,71.5" stroke-width="0.8"/>
<rect x="612.5" y="64.5" width="4.5" height="5" fill="#555" stroke-width="0.01"/>
<path d="M629.5 62 Q630.5 53 641 52.6 Q651 53 653 61 L654 75 Q652 80.5 644 81.5 L636 80.5 Q630 78 629.5 70 Z" fill="#fff"/>
<ellipse cx="650.3" cy="67.5" rx="3.6" ry="9" stroke-width="1.9"/>
<ellipse cx="650.5" cy="67.5" rx="1.5" ry="5.5" stroke-width="1"/>
<polyline points="652.5,63.6 658,63.4" stroke-width="1"/>
<polyline points="652.5,71.6 658,72" stroke-width="1"/>
<path d="M634 81 L634 90.5 Q642 93.5 650.3 90.5 L650.3 80"/>
<path d="M634 84.5 Q642 87.5 650.3 84.5" stroke-width="1.3"/>
<path d="M630.3 101 Q642 93.5 654.8 100.5 L654.8 112.5 Q649 116.5 645 117 L638 116.8 Q633 115.5 630.3 111.5 Z"/>
<ellipse cx="642.5" cy="100.5" rx="12.2" ry="4.2"/>
<ellipse cx="642.5" cy="100.8" rx="9.5" ry="3" stroke-width="0.9"/>
<polyline points="637.5,104.5 637.8,116.5" stroke-width="0.9"/>
<polyline points="648,104.5 648,116.5" stroke-width="0.9"/>
<ellipse cx="661" cy="69" rx="3.8" ry="8" transform="rotate(6 661 69)" stroke-width="1.5"/>
<ellipse cx="672" cy="71" rx="3.7" ry="7.6" transform="rotate(6 672 71)" stroke-width="1.5"/>
<ellipse cx="676.8" cy="78.2" rx="0.5" ry="0.5" fill="#1b1b1b" stroke-width="0.5"/>
<ellipse cx="616" cy="42.5" rx="2.4" ry="3.2" transform="rotate(-30 616 42.5)" fill="#1b1b1b"/>
<ellipse cx="635.5" cy="43.3" rx="2.8" ry="3.4" transform="rotate(-30 635.5 43.3)" fill="#1b1b1b"/>
<polyline points="613,44 616,47" stroke-width="0.9"/>
<polyline points="632,42 636,48" stroke-width="0.9"/>
<path d="M612.5 44 Q618 51 627 58" stroke-width="0.8"/>
<path d="M617 40 Q620 38 619.5 43" stroke-width="0.8"/>
<path d="M638 41.5 Q652 43 658 56.5" stroke-width="0.8"/>
<path d="M640 40 Q655 42 659.5 58" stroke-width="0.8"/>
<rect x="607.5" y="89.3" width="13" height="5" stroke-width="1" rx="1.5"/>
<polyline points="612,89.3 612,94.3" stroke-width="0.8"/>
<polyline points="616,89.3 616,94.3" stroke-width="0.8"/>
<polyline points="606,91 608,90" stroke-width="0.8"/>
<!-- left plug -->
<path d="M340.3 151 Q340 148 343 147.4 L348.5 147.2 Q350.8 148 350.7 150.5 L350.7 161.5 Q350.5 164.2 348 164.4 L343 164.5 Q340.3 164 340.2 161 Z" fill="#fff" stroke-width="1.2"/>
<polyline points="340.3,153.2 346,152.8" stroke-width="0.9"/>
<polyline points="340.3,158.6 346,158.9" stroke-width="0.9"/>
<polyline points="347,148 347.2,164" stroke-width="2.2"/>
<polyline points="343.5,147.5 343.7,153" stroke-width="0.8"/>
<polyline points="343.7,159 343.7,164.3" stroke-width="0.8"/>
<path d="M350.7 150.2 L358 150.8 Q363 153 363.8 156.5 Q363.3 160.5 358.5 162.6 L350.7 163.2" stroke-width="1.2"/>
<polyline points="355.3,150.5 355.5,163" stroke-width="1"/>
<polyline points="352.6,150.4 352.8,163.1" stroke-width="0.8"/>
<ellipse cx="361.2" cy="156.6" rx="2.2" ry="5.2" stroke-width="1.3"/>
<polyline points="365,159.4 370,159.8" stroke="#666" stroke-width="0.6"/>
<polyline points="372.6,160.2 377,160.5"/>
<polyline points="380,160.8 383.8,161.1" stroke="#444" stroke-width="0.7"/>
<!-- left elbow group -->
<ellipse cx="262.7" cy="193.6" rx="3.5" ry="7.4" transform="rotate(8 262.7 193.6)" stroke-width="1.5"/>
<ellipse cx="273.6" cy="194.5" rx="3.5" ry="7.4" transform="rotate(8 273.6 194.5)" stroke-width="1.5"/>
<path d="M281.5 199 Q281 185 293 183 Q304 182 306.3 191 L306.5 207 Q304.5 212.5 297 213.5 L288 212.5 Q283 209 281.5 199 Z" fill="#fff" stroke-width="1.45"/>
<ellipse cx="301.8" cy="198" rx="3.4" ry="9" stroke-width="2.2"/>
<ellipse cx="302" cy="198" rx="1.4" ry="5.6" stroke-width="1"/>
<path d="M295 184.5 Q299.5 198 296 213" stroke-width="0.8"/>
<path d="M285 212 L285 219 Q293 222.5 300.5 219 L300.5 212.5" stroke-width="1.3"/>
<path d="M285 214.3 Q293 217.3 300.5 214.3" stroke-width="1.7"/>
<path d="M285 216.8 Q293 219.8 300.5 216.8" stroke-width="1.7"/>
<path d="M285 219.2 Q293 222.2 300.5 219.2" stroke-width="1.7"/>
<path d="M280.3 231 Q292 223.5 304.6 230.5 L304.6 242 Q299 246.5 295 247 L288 246.8 Q283 245.5 280.3 241.5 Z" stroke-width="1.15"/>
<ellipse cx="292.4" cy="230.6" rx="12.1" ry="4.3" stroke-width="1.15"/>
<ellipse cx="292.4" cy="231" rx="8.8" ry="2.9" stroke-width="2"/>
<polyline points="287.2,234.6 287.5,246.7" stroke-width="0.9"/>
<polyline points="298,234.5 298,246.3" stroke-width="0.9"/>
<path d="M311.5 194.5 Q310 201 311.5 207 L318 208 L318.5 206 L330 205 L330 196.5 L318.5 195 L318 193.3 Z" fill="#fff" stroke-width="1.15"/>
<ellipse cx="312.3" cy="200.7" rx="2.2" ry="6.4" stroke-width="1"/>
<polyline points="318.3,195 318.5,206" stroke-width="0.9"/>
<rect x="319" y="200" width="3.6" height="4.6" fill="#444" stroke-width="0.01"/>
<ellipse cx="336.5" cy="201.8" rx="7.2" ry="15.6" fill="#fff" stroke-width="1.15"/>
<ellipse cx="338.6" cy="201.8" rx="7" ry="15.4" fill="#fff" stroke-width="1.15"/>
<ellipse cx="339.8" cy="201.8" rx="3.2" ry="7.6" stroke-width="1.6"/>
<ellipse cx="337.5" cy="190.5" rx="1.2" ry="1.9" fill="#333" stroke-width="1.2"/>
<ellipse cx="342.5" cy="195" rx="1.2" ry="1.9" fill="#333" stroke-width="1.2"/>
<ellipse cx="335.5" cy="212.5" rx="1.2" ry="1.9" fill="#333" stroke-width="1.2"/>
<ellipse cx="342" cy="210" rx="1.2" ry="1.9" fill="#333" stroke-width="1.2"/>
<ellipse cx="334.2" cy="200" rx="1.2" ry="1.9" fill="#333" stroke-width="1.2"/>
<polyline points="336,206 341,196" stroke-width="0.7"/>
<polyline points="336,197 341,207" stroke-width="0.7"/>
<path d="M352 198.2 Q347.2 205.5 349.9 212.8" stroke-width="2.1"/>
<polyline points="350,205.2 352.6,205.2" stroke-width="1"/>
<polyline points="357.8,206.4 362,206.6" stroke-width="1"/>
<polyline points="371.3,208.2 377.3,208.6" stroke="#444" stroke-width="0.7"/>
<polyline points="380,208.9 383.6,209.3" stroke-width="0.8"/>
<!-- leaders -->
<polyline points="447.3,174.8 440.5,181.8 440.5,189 422.7,206.4" stroke-width="0.9"/>
<polyline points="412,217.3 394.5,233.6" stroke-width="0.9"/>
<polyline points="394.5,235.4 362.3,231.3 344,248" stroke-width="0.9"/>
<polyline points="340,251.6 330,261" stroke-width="0.9"/>
<polyline points="329,262 316.4,275.6" stroke-dasharray="3 3 14 0" stroke-width="0.9"/>
<polyline points="316.4,275.6 273,313" stroke-width="0.9"/>
<polyline points="473.6,168.5 456.4,186.4 456.4,194.5 435.5,214.5" stroke-width="0.9"/>
<polyline points="429,221 405.5,244.5" stroke-width="0.9"/>
<polyline points="398.7,249.5 396,252.3" stroke-width="0.9"/>
<polyline points="393.2,255 340.5,304.5" stroke-width="0.9"/>
<polyline points="434.5,234.5 434.5,266.4 389.5,298 389.6,323.5" stroke-width="0.9"/>
<polyline points="389.6,323.5 377,331" stroke-dasharray="6 3" stroke-width="0.9"/>
<polyline points="448,277 418,301.5" stroke-dasharray="3 2 1 2" stroke="#333" stroke-width="0.7"/>
<polyline points="418,301.5 408.6,309.6 408.6,345.8" stroke-dasharray="7 2.5 1.5 2.5" stroke="#444" stroke-width="0.7"/>
<polyline points="408.6,345.8 388,362" stroke-dasharray="8 3 1.5 3" stroke="#333" stroke-width="0.75"/>
<!-- small parts -->
<g transform="rotate(-40 288.3 300.4)">
<rect x="280.5" y="294.5" width="15" height="12" fill="#fff" stroke-width="1.2" rx="2"/>
<polyline points="283.5,294.5 283.5,306.5" stroke-width="1.3"/>
<polyline points="286.1,294.5 286.1,306.5" stroke-width="1.3"/>
<polyline points="288.7,294.5 288.7,306.5" stroke-width="1.3"/>
<polyline points="291.3,294.5 291.3,306.5" stroke-width="1.3"/>
<polyline points="293.9,294.5 293.9,306.5" stroke-width="1.3"/>
<ellipse cx="281" cy="300.5" rx="3.8" ry="6" fill="#fff" stroke-width="1.3"/>
<ellipse cx="281" cy="300.5" rx="1.8" ry="3" stroke-width="1"/>
</g>
<ellipse cx="266.3" cy="318.9" rx="7.7" ry="7.9" stroke-width="1.7"/>
<ellipse cx="249" cy="338.2" rx="10.3" ry="10.3" stroke-width="1.4"/>
<ellipse cx="250.2" cy="337.4" rx="10" ry="10" stroke-width="0.9"/>
<path d="M243.5 334.5 L248.5 331.5 L254 334 L254.3 340 L249 343.5 L243.5 340.5 Z" stroke-width="1"/>
<polyline points="252,330 258,331.5" stroke-width="1.4"/>
<ellipse cx="374.4" cy="273.4" rx="6.4" ry="6.5" stroke-width="1.6"/>
<path d="M344.8 292 L349.5 286.8 L357 286.5 L360.2 291.5 L360 297.5 L355 301.6 L348 301.8 L344.6 297.5 Z" fill="#fff" stroke-width="1.3"/>
<path d="M356.72 286.45A6.5 7.5 0 0 1 357.75 300" stroke-width="2.4"/>
<ellipse cx="351.3" cy="294.5" rx="4.8" ry="4.9" stroke-width="1.2"/>
<ellipse cx="351.3" cy="294.5" rx="2.6" ry="2.7" stroke-width="1.2"/>
<polyline points="349.5,286.8 348.5,290" stroke-width="0.8"/>
<polyline points="348,301.8 347.6,298.6" stroke-width="0.8"/>
<ellipse cx="371.8" cy="337" rx="4.6" ry="4.8" fill="#333" stroke-width="1.2"/>
<ellipse cx="371.3" cy="337.3" rx="1.6" ry="1.6" stroke-width="0.7" stroke="#ddd"/>
<ellipse cx="361.3" cy="346.2" rx="5.8" ry="6" stroke-width="1.4"/>
<ellipse cx="361.3" cy="346.2" rx="2.6" ry="2.8" stroke-width="1.6"/>
<polyline points="366.5,341.5 368.5,340" stroke-width="0.8"/>
<ellipse cx="332" cy="371.7" rx="6.4" ry="6.4" stroke-width="1.3"/>
<ellipse cx="319" cy="383" rx="7" ry="7" stroke-width="1.3"/>
<polyline points="338.5,366 346,359.5" stroke-width="0.8"/>
<polyline points="324,378.5 327,376" stroke-width="0.7"/>
<g transform="rotate(-40 379 369.5)">
<rect x="373" y="366.2" width="8" height="6.6" fill="#fff" stroke-width="1.2" rx="2"/>
<ellipse cx="374" cy="369.5" rx="2" ry="3" stroke-width="1.4"/>
<rect x="381" y="367.3" width="6" height="4.4" fill="#333" stroke-width="1"/>
<ellipse cx="389.5" cy="369.5" rx="1.6" ry="3.8" stroke-width="1.6"/>
</g>
<polyline points="366.5,380 372,375.5" stroke-width="0.8"/>
<path d="M358.3 384.6 L360 382 L363.5 382 L365.2 384.6 L363.5 387.2 L360 387.2 Z" stroke-width="1.2"/>
<!-- wheel -->
<path d="M265.36 383.31A38 41 0 0 1 302.53 452.77" stroke-width="1.4"/>
<path d="M268.59 382.42A37.5 40.5 0 0 1 299.2 453.32" stroke-width="0.9"/>
<path d="M269.83 382.95A37.5 40 0 0 1 296.19 454.32" stroke-width="1.2"/>
<ellipse cx="271.6" cy="423.3" rx="36.3" ry="39" fill="#fff" stroke-width="1.4"/>
<ellipse cx="272.2" cy="423.3" rx="26.1" ry="29" stroke-width="1.5"/>
<ellipse cx="267" cy="427.3" rx="5.1" ry="5.3" stroke-width="1.3"/>
<path d="M269.03 422.57A4.2 4.8 0 0 1 269.03 432.03" stroke-width="0.9"/>
<ellipse cx="256.25" cy="394.32" rx="4.4" ry="4.53" fill="#fff" stroke-width="1.4"/>
<ellipse cx="265.91" cy="392.05" rx="4.4" ry="4.53" fill="#fff" stroke-width="1.4"/>
<ellipse cx="275.57" cy="393.41" rx="4.4" ry="4.53" fill="#fff" stroke-width="1.4"/>
<ellipse cx="285.23" cy="396.59" rx="4.4" ry="4.53" fill="#fff" stroke-width="1.4"/>
<ellipse cx="296.02" cy="402.84" rx="3.1" ry="3.19" fill="#fff" stroke-width="1.4"/>
<ellipse cx="300.57" cy="414.2" rx="4.4" ry="4.53" fill="#fff" stroke-width="1.4"/>
<ellipse cx="303.41" cy="423.86" rx="4.4" ry="4.53" fill="#fff" stroke-width="1.4"/>
<ellipse cx="302.27" cy="434.09" rx="4.4" ry="4.53" fill="#fff" stroke-width="1.4"/>
<ellipse cx="300" cy="442.05" rx="4.4" ry="4.53" fill="#fff" stroke-width="1.4"/>
<ellipse cx="296.02" cy="449.43" rx="3.1" ry="3.19" fill="#fff" stroke-width="1.4"/>
<ellipse cx="284.09" cy="455.68" rx="4.4" ry="4.53" fill="#fff" stroke-width="1.4"/>
<ellipse cx="275" cy="457.39" rx="4.4" ry="4.53" fill="#fff" stroke-width="1.4"/>
<ellipse cx="265.91" cy="455.68" rx="4.4" ry="4.53" fill="#fff" stroke-width="1.4"/>
<ellipse cx="256.82" cy="451.7" rx="4.4" ry="4.53" fill="#fff" stroke-width="1.4"/>
<ellipse cx="246.59" cy="443.75" rx="3.1" ry="3.19" fill="#fff" stroke-width="1.4"/>
<ellipse cx="240.91" cy="434.09" rx="4.4" ry="4.53" fill="#fff" stroke-width="1.4"/>
<ellipse cx="239.2" cy="425" rx="4.4" ry="4.53" fill="#fff" stroke-width="1.4"/>
<ellipse cx="239.2" cy="415.91" rx="4.4" ry="4.53" fill="#fff" stroke-width="1.4"/>
<ellipse cx="241.48" cy="407.39" rx="4.4" ry="4.53" fill="#fff" stroke-width="1.4"/>
<ellipse cx="247.16" cy="396.59" rx="3.1" ry="3.19" fill="#fff" stroke-width="1.4"/>
<path d="M244.3 393.8 Q250 386 259 382.4 L265 383.4" stroke-width="2.6"/>
<ellipse cx="306.8" cy="392" rx="4.6" ry="5.2" fill="#fff" stroke-width="1.5"/>
<ellipse cx="306.2" cy="393" rx="2" ry="2.6" stroke-width="1.8"/>
<polyline points="302.5,389 299,392.5" stroke-width="1.2"/>
<polyline points="311,395 309,400" stroke-width="1.2"/>
<path d="M304.5 447.7 Q311 443 313 437" stroke-width="2"/>
<ellipse cx="230" cy="459.1" rx="5.9" ry="6.1" stroke-width="1.9"/>
<ellipse cx="229.6" cy="459.4" rx="3.2" ry="3.3" fill="#1b1b1b" stroke-width="1"/>
<ellipse cx="229.9" cy="459.2" rx="1" ry="1" stroke-width="0.7" stroke="#eee"/>
<polyline points="235,454.3 263,431.5" stroke-dasharray="8 3" stroke-width="0.8"/>
<g transform="rotate(-40 205 481)">
<rect x="184" y="477.2" width="10.5" height="7.6" fill="#fff" rx="2.5"/>
<ellipse cx="186.5" cy="481" rx="3.4" ry="3.7" stroke-width="1"/>
<rect x="194.5" y="477.6" width="4" height="6.8" stroke-width="1"/>
<rect x="198.5" y="477.8" width="8" height="6.4" fill="#222" stroke-width="1"/>
<rect x="206.5" y="478.6" width="14" height="4.8" stroke-width="1"/>
<rect x="219.5" y="477.6" width="8" height="6.8" fill="#1b1b1b" stroke-width="1" rx="2.5"/>
<polyline points="221,481 226,481" stroke-dasharray="1.2 1.2" stroke="#ddd" stroke-width="0.7"/>
<polyline points="178,481 184,481" stroke-width="0.8"/>
</g>
<!-- split ring -->
<path d="M443.8 334.51A26.6 8.7 0 0 1 494.4 334.51" stroke-width="1.6"/>
<path d="M444.8 337.16A26.6 8.7 0 0 1 493.4 337.16" stroke-width="0.8"/>
<path d="M446.06 339.35A26.6 8.7 0 0 1 492.14 339.35" stroke-width="1.5"/>
<path d="M448.14 340.94A26.6 8.7 0 0 1 490.06 340.94" stroke-width="1.5"/>
<path d="M459.42 348.83A33.1 10.8 0 0 1 436.01 338.31" stroke-width="2.2"/>
<path d="M459.42 354.83A33.1 10.8 0 0 1 436 344.41" stroke-width="2.2"/>
<path d="M459.42 357.33A33.1 10.8 0 0 1 436 347" stroke-width="1.2"/>
<polyline points="436,331.5 436,347" stroke-width="1.3"/>
<polyline points="459.42,341.83 459.42,357.33" stroke-width="1.4"/>
<polyline points="459.42,341.83 464.02,341.54"/>
<path d="M502.2 337.5A33.1 10.8 0 0 1 495.88 343.85" stroke-width="2"/>
<path d="M502.2 342.5A33.1 10.8 0 0 1 495.88 348.85" stroke-width="2"/>
<path d="M502.2 344.7A33.1 10.8 0 0 1 495.88 351.05"/>
<polyline points="502.2,331.5 502.2,344.5" stroke-width="1.3"/>
<polyline points="495.88,337.85 495.88,351.35" stroke-width="1.4"/>
<polyline points="495.88,337.85 488.55,338.93"/>
<polyline points="500.58,335.84 500.58,347.34" stroke-width="1.6"/>
<path d="M459.42 341.83A33.1 10.8 0 1 1 495.88 337.85" stroke-width="1.5"/>
<path d="M461.34 341.57A30 9.7 0 1 1 492.74 338.17" stroke-width="0.8"/>
<path d="M464.02 341.54A26.6 8.7 0 1 1 488.55 338.93" stroke-width="1.4"/>
<polyline points="469.1,346 469.1,392" stroke-dasharray="9 2.5 1.5 2.5" stroke-width="0.8"/>
<ellipse cx="430.3" cy="359.8" rx="3.4" ry="1.6" fill="#1b1b1b" stroke-width="1"/>
<polyline points="430.3,362 430.3,368" stroke-dasharray="2 2" stroke-width="0.6"/>
<ellipse cx="544.9" cy="388.2" rx="4.4" ry="2.2" fill="#1b1b1b" stroke-width="1"/>
<polyline points="544.8,383.5 544.8,394.5" stroke-width="0.9"/>
<ellipse cx="553.2" cy="397.5" rx="5.7" ry="2.3" stroke-width="2.3"/>
<polyline points="511.3,394.4 544.5,395" stroke-width="0.9"/>
<polyline points="519.3,400.3 533,400.9" stroke-dasharray="5 3" stroke="#666" stroke-width="0.6"/>
<!-- red highlight -->
<ellipse cx="642.5" cy="625.4" rx="88" ry="87" stroke-width="5" stroke="#ed1c24"/>
</svg>
</body></html>
